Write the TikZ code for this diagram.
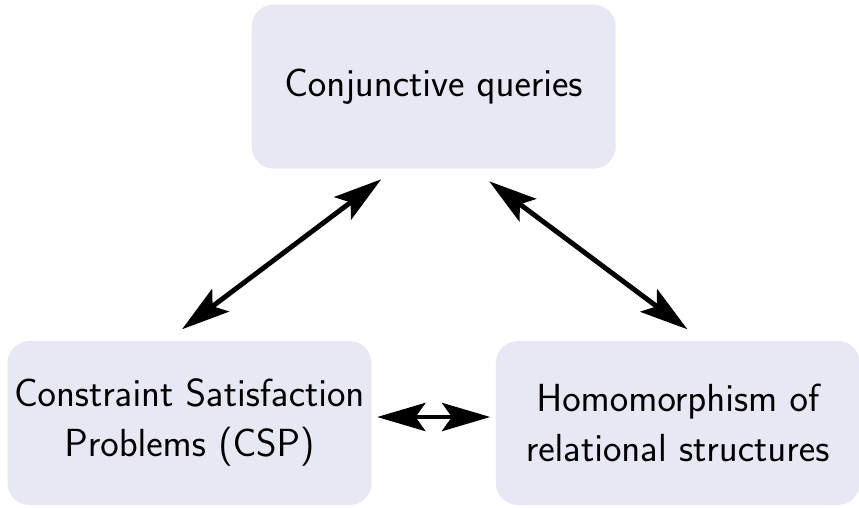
\documentclass[tikz,border=0pt]{standalone}
\usepackage{amsmath}
\usepackage{tikz}
\usepackage{xcolor}
\usetikzlibrary{arrows.meta, positioning, calc}

\definecolor{boxfill}{RGB}{232,232,244}
\font\topicfont=cmss17 at 11.15pt

\tikzset{
  topic/.style={rectangle, rounded corners=0.22cm, fill=boxfill, inner sep=1pt,
    minimum width=3.64cm, minimum height=1.64cm, align=center,
    font=\fontsize{11.15}{14.2}\selectfont\topicfont},
  equiv/.style={line width=1.4pt,
    {Stealth[length=13.7pt, width=8pt, inset=2.8pt]}-{Stealth[length=13.7pt, width=8pt, inset=2.8pt]}}
}

\begin{document}
\begin{tikzpicture}
\useasboundingbox (0,0) rectangle (8.59,5.07);
\node[topic] (csp) at (1.895,0.84) {Constraint Satisfaction\\Problems (CSP)};
\node[topic, right=1.23cm of csp] (hom) {Homomorphism of\\relational structures};
\node[topic, above=1.71cm of {$(csp.north)!0.5!(hom.north)$}] (cq) {Conjunctive queries};

% the three problems are equivalent
\draw[equiv] ([xshift=-0.075cm, yshift=0.11cm]csp.north) -- ([xshift=-0.525cm, yshift=-0.1cm]cq.south);
\draw[equiv] ([xshift=0.555cm, yshift=-0.12cm]cq.south) -- ([xshift=0.095cm, yshift=0.11cm]hom.north);
\draw[equiv] ([xshift=0.05cm, yshift=0.06cm]csp.east) -- ([xshift=-0.05cm, yshift=0.06cm]hom.west);
\end{tikzpicture}
\end{document}
